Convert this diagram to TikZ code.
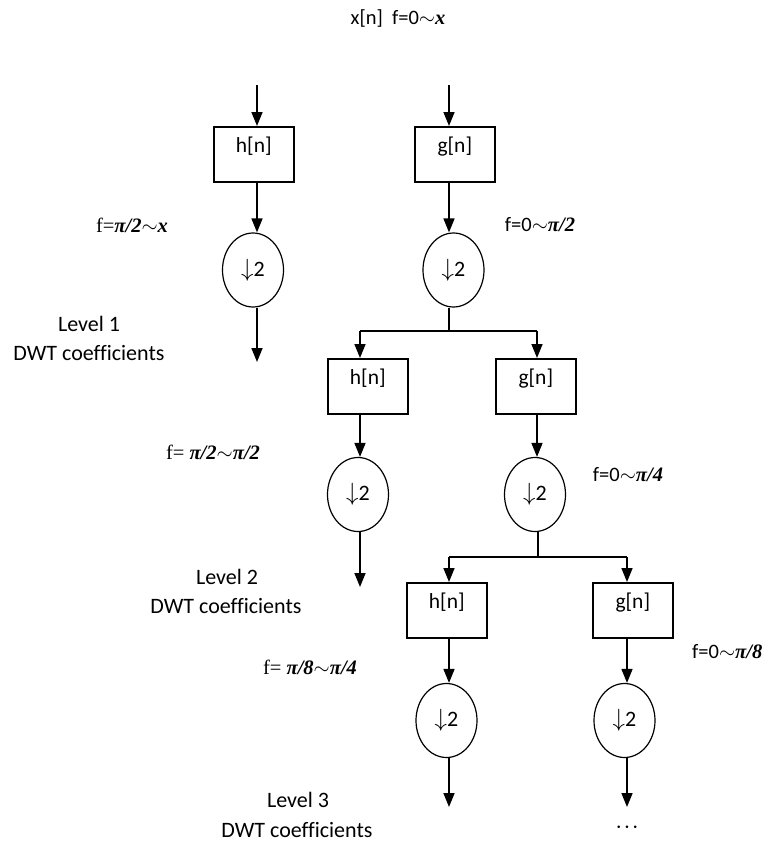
\documentclass[tikz,border=0pt]{standalone}
\usepackage{fontspec}
\setmainfont[Ligatures=NoCommon]{Carlito}
\newfontfamily\tms{Liberation Serif}
\usetikzlibrary{arrows.meta,shapes.geometric}
\newcommand{\pb}[1]{{\tms\bfseries\itshape #1}}
\newcommand{\tl}{\ensuremath{\sim}}
\newcommand{\dn}{{\fontsize{24}{24}\selectfont$\downarrow$}}
\begin{document}
\begin{tikzpicture}[x=1pt,y=-1pt,
  filt/.style={draw,line width=1.6pt,minimum width=80pt,minimum height=55pt,inner sep=0pt,anchor=north west},
  ftxt/.style={font=\fontsize{21.5}{21.5}\selectfont,inner sep=0pt},
  dsmp/.style={draw,line width=1.2pt,ellipse,minimum width=61pt,minimum height=74pt,inner sep=0pt,font=\fontsize{22}{22}\selectfont},
  arr/.style={line width=1.6pt,-{Triangle[length=14pt,width=11pt]}},
  ln/.style={line width=1.6pt},
  lbl/.style={font=\fontsize{22}{22}\selectfont,inner sep=0pt},
  flbl/.style={font=\fontsize{20.5}{20.5}\selectfont,inner sep=0pt},
]
\useasboundingbox (0,0) rectangle (762,843);
\fill[white] (0,0) rectangle (762,843);

% top label
\node[flbl] (top) at (398,18) {x[n]\ \ f=0\tl\pb{x}};

% level 1
\node[filt] (h1) at (213,126) {};
\node[ftxt] (h1t) at ([yshift=8pt]h1.center) {h[n]};
\node[filt] (g1) at (414,126) {};
\node[ftxt] (g1t) at ([yshift=8pt]g1.center) {g[n]};
\node[dsmp] (c1) at (253,270) {\dn2};
\node[dsmp] (d1) at (453.5,270) {\dn2};
\coordinate (in1) at (257,85);
\coordinate (in2) at (449,85);
\coordinate (o1) at (257,362);
\coordinate (j1) at (449,331);

\draw[arr] (in1) -- (in1 |- h1.north);
\draw[arr] (in2) -- (in2 |- g1.north);
\draw[arr] (in1 |- h1.south) -- (in1 |- c1.north);
\draw[arr] (in2 |- g1.south) -- (in2 |- d1.north);
\draw[arr] (in1 |- c1.south) -- (o1);
\draw[ln] (in2 |- d1.south) -- (j1);

% level 2
\node[filt] (h2) at (327,358) {};
\node[ftxt] (h2t) at ([yshift=8pt]h2.center) {h[n]};
\node[filt] (g2) at (495,358) {};
\node[ftxt] (g2t) at ([yshift=8pt]g2.center) {g[n]};
\node[dsmp] (c2) at (358,494.5) {\dn2};
\node[dsmp] (d2) at (535,494.5) {\dn2};
\coordinate (a2) at (360,331);
\coordinate (b2) at (537,331);
\coordinate (o2) at (360,587);
\coordinate (j2) at (538,557);

\draw[ln] (a2) -- (b2);
\draw[arr] (a2) -- (a2 |- h2.north);
\draw[arr] (b2) -- (b2 |- g2.north);
\draw[arr] (a2 |- h2.south) -- (a2 |- c2.north);
\draw[arr] (b2 |- g2.south) -- (b2 |- d2.north);
\draw[arr] (a2 |- c2.south) -- (o2);
\draw[ln] (j2 |- d2.south) -- (j2);

% level 3
\node[filt] (h3) at (406,582) {};
\node[ftxt] (h3t) at ([yshift=8pt]h3.center) {h[n]};
\node[filt] (g3) at (592,582) {};
\node[ftxt] (g3t) at ([yshift=8pt]g3.center) {g[n]};
\node[dsmp] (c3) at (446.5,720.5) {\dn2};
\node[dsmp] (d3) at (624.5,720.5) {\dn2};
\coordinate (a3) at (449,557);
\coordinate (b3) at (627,557);
\coordinate (o3) at (449,807);
\coordinate (p3) at (627,807);

\draw[ln] (a3) -- (b3);
\draw[arr] (a3) -- (a3 |- h3.north);
\draw[arr] (b3) -- (b3 |- g3.north);
\draw[arr] (a3 |- h3.south) -- (a3 |- c3.north);
\draw[arr] (b3 |- g3.south) -- (b3 |- d3.north);
\draw[arr] (a3 |- c3.south) -- (o3);
\draw[arr] (b3 |- d3.south) -- (p3);
\node[font=\fontsize{26}{26}\selectfont\bfseries,inner sep=0pt] (dots) at (627,828) {$\cdot\!\cdot\!\cdot$};

% frequency labels
\node[flbl] (f1) at (132,225) {{\tms f=}\pb{π/2}\tl\pb{x}};
\node[flbl] (f2) at (540,225) {f=0\tl\pb{π/2}};
\node[flbl] (f3) at (213,452) {{\tms f= }\pb{π/2}\tl\pb{π/2}};
\node[flbl] (f4) at (628,475) {f=0\tl\pb{π/4}};
\node[flbl] (f5) at (310,667) {{\tms f= }\pb{π/8}\tl\pb{π/4}};
\node[flbl,anchor=west] (f6) at (692,652) {f=0\tl\pb{π/8}};

% level labels
\node[lbl] (l1a) at (89,324) {Level 1};
\node[lbl] (l1b) at (89,353) {DWT coefficients};
\node[lbl] (l2a) at (227,577) {Level 2};
\node[lbl] (l2b) at (226,606) {DWT coefficients};
\node[lbl] (l3a) at (298,800) {Level 3};
\node[lbl] (l3b) at (297,830) {DWT coefficients};
\end{tikzpicture}
\end{document}
